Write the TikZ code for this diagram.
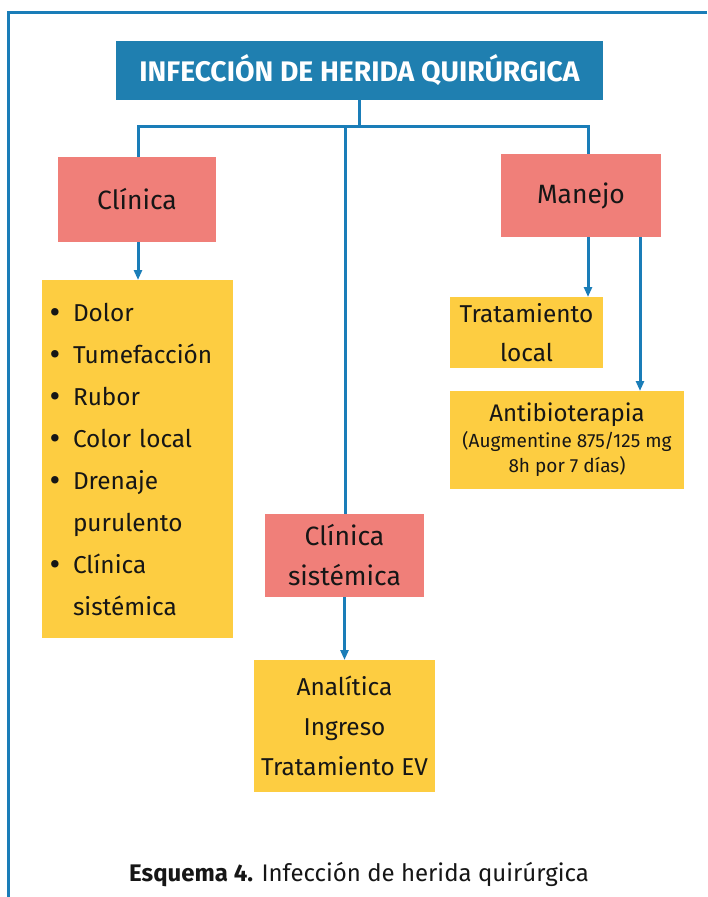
\documentclass[tikz,border=0pt]{standalone}
\usepackage{fontspec}
\setmainfont{Fira Sans}
\usetikzlibrary{arrows.meta}
\definecolor{frameblue}{HTML}{1A7DB8}
\definecolor{titleblue}{HTML}{1F7FB0}
\definecolor{salmon}{HTML}{F07F79}
\definecolor{amber}{HTML}{FDCD41}
\definecolor{ink}{HTML}{161616}
\newcommand\dotitem{\makebox[23.5pt][l]{\raisebox{-2.4pt}{\scalebox{1.35}{\textbullet}}}}
\newcommand\contitem{\hspace*{23.5pt}}
\begin{document}
\begin{tikzpicture}[x=1pt,y=-1pt,
  every node/.style={inner sep=0pt, outer sep=0pt},
  titlebox/.style={fill=titleblue, text=white, font=\fontsize{28.3}{30}\selectfont\bfseries},
  headbox/.style={fill=salmon, text=ink, align=center, font=\fontsize{26.5}{40}\selectfont},
  infobox/.style={fill=amber, text=ink, align=center, font=\fontsize{24.4}{40}\selectfont},
  link/.style={draw=frameblue, line width=3pt},
  arrow/.style={link, -{Triangle[length=10pt,width=8pt]}},
]
\useasboundingbox (0,0) rectangle (707,897);
\fill[white] (0,0) rectangle (707,897);
% outer frame, open to the right and bottom
\draw[frameblue, line width=3pt] (707,12) -- (8.5,12) -- (8.5,897);

% boxes
\node[titlebox, minimum width=487pt, minimum height=59pt] (title) at (359.5,70.5) {INFECCIÓN DE HERIDA QUIRÚRGICA};
\node[headbox, minimum width=158pt, minimum height=85pt] (clin) at (137,199.5) {Clínica};
\node[headbox, minimum width=160pt, minimum height=83pt] (manejo) at (581,195.5) {Manejo};
\node[headbox, minimum width=159pt, minimum height=83pt] (sist) at (344.5,555.5) {Clínica\\sistémica};
\node[infobox, align=left, text width=176pt, inner xsep=7.5pt, minimum height=358pt,
      font=\fontsize{24.4}{42}\selectfont] (list) at (137.5,459)
  {\dotitem Dolor\\ \dotitem Tumefacción\\ \dotitem Rubor\\ \dotitem Color local\\
   \dotitem Drenaje\\ \contitem purulento\\ \dotitem Clínica\\ \contitem sistémica};
\node[infobox, minimum width=153pt, minimum height=71pt, font=\fontsize{24.4}{39}\selectfont] (tlocal) at (526.5,332.5) {Tratamiento\\local};
\node[infobox, minimum width=234pt, minimum height=98pt, font=\fontsize{24}{28}\selectfont] (antib) at (567,440)
  {Antibioterapia\\[-2pt]{\fontsize{19}{25}\selectfont(Augmentine 875/125 mg}\\[-3pt]{\fontsize{19}{25}\selectfont 8h por 7 días)}};
\node[infobox, minimum width=181pt, minimum height=132pt] (analit) at (344.5,726) {Analítica\\Ingreso\\Tratamiento EV};

% caption
\node[text=ink, font=\fontsize{24}{28}\selectfont] (caption) at (359,875) {\textbf{Esquema 4.} Infección de herida quirúrgica};

% connectors
\coordinate (jT) at (359.5,126);
\coordinate (jL) at (138,126);
\coordinate (jM) at (345,126);
\coordinate (jR) at (588,126);
\draw[link] (title.south) -- (jT);
\draw[link, line cap=rect] (jL) -- (jR);
\draw[link] (jL) -- (jL |- clin.north);
\draw[link] (jM) -- (jM |- sist.north);
\draw[link] (jR) -- (jR |- manejo.north);
\draw[arrow] (jL |- clin.south) -- (jL |- list.north);
\draw[arrow] ([xshift=7pt]manejo.south) -- ([xshift=7pt]manejo.south |- tlocal.north);
\draw[arrow] ([xshift=59pt]manejo.south) -- ([xshift=59pt]manejo.south |- antib.north);
\draw[arrow] (sist.south) -- (analit.north);
\end{tikzpicture}
\end{document}
